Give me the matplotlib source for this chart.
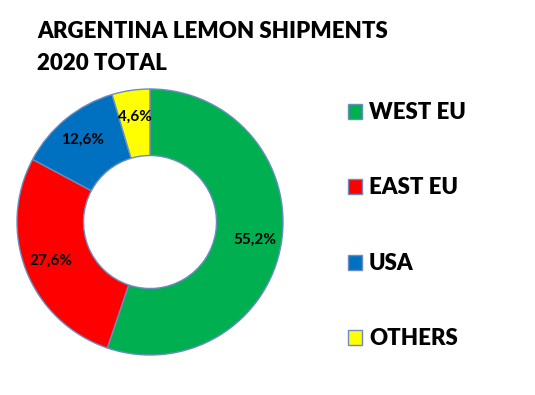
import matplotlib
matplotlib.use("Agg")
import matplotlib.pyplot as plt
from matplotlib.patches import Patch

# Datos del gráfico
regions = ["WEST EU", "EAST EU", "USA", "OTHERS"]
shares = [55.2, 27.6, 12.6, 4.6]
colors = ["#00B050", "#FF0000", "#0070C0", "#FFFF00"]
edge = "#6A8CC0"

plt.rcParams["font.family"] = ["Lato", "DejaVu Sans"]

fig = plt.figure(figsize=(5.35, 3.95), dpi=100)

# Ejes del anillo: centro (150, 222) px, radio ~133 px
cx, cy, r = 150, 395 - 222, 133
ax = fig.add_axes([(cx - r) / 535, (cy - r) / 395, 2 * r / 535, 2 * r / 395])

wedges, texts, autotexts = ax.pie(
    shares, colors=colors, startangle=90, counterclock=False,
    radius=1, pctdistance=0.8,
    autopct=lambda p: f"{p:.1f}%".replace(".", ","),
    wedgeprops=dict(width=0.5, edgecolor=edge, linewidth=1),
    textprops=dict(fontsize=11, fontweight="bold", color="black"),
)
ax.set_xlim(-1, 1)
ax.set_ylim(-1, 1)
ax.set_aspect("equal")

# Título
fig.text(37 / 535, 1 - 32 / 395, "ARGENTINA LEMON SHIPMENTS", fontsize=16,
         fontweight="heavy", va="center", ha="left")
fig.text(37 / 535, 1 - 63 / 395, "2020 TOTAL", fontsize=16,
         fontweight="heavy", va="center", ha="left")

# Leyenda
handles = [Patch(facecolor=c, edgecolor=edge, linewidth=1) for c in colors]
fig.legend(handles, regions, loc="upper left",
           bbox_to_anchor=(328 / 535, 1 - 82 / 395), frameon=False,
           prop=dict(size=16, weight="heavy"), handlelength=0.65,
           handleheight=0.65, handletextpad=0.3, labelspacing=2.45)

fig.savefig("out.png", dpi=100)
